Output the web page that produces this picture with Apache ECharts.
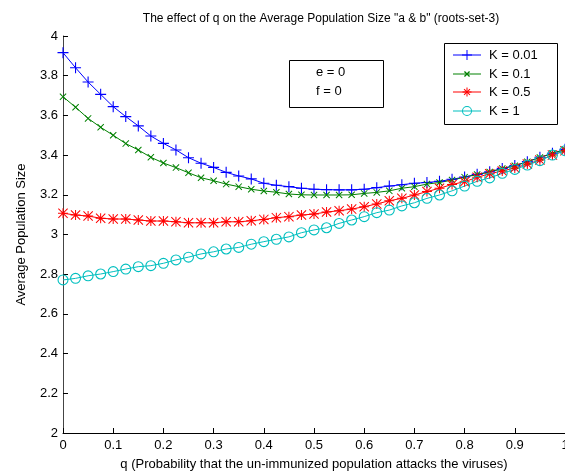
<!DOCTYPE html>
<html>
<head>
<meta charset="utf-8">
<script src="https://cdn.jsdelivr.net/npm/echarts@6/dist/echarts.min.js"></script>
<style>
html,body{margin:0;padding:0;background:#fff;}
#chart{width:565px;height:475px;}
</style>
</head>
<body>
<div id="chart"></div>
<script>
var qValues = [0,0.025,0.05,0.075,0.1,0.125,0.15,0.175,0.2,0.225,0.25,0.275,0.3,0.325,0.35,0.375,0.4,0.425,0.45,0.475,0.5,0.525,0.55,0.575,0.6,0.625,0.65,0.675,0.7,0.725,0.75,0.775,0.8,0.825,0.85,0.875,0.9,0.925,0.95,0.975,1];
var seriesNames = ['K = 0.01','K = 0.1','K = 0.5','K = 1'];
var k001 = [3.916,3.84,3.768,3.706,3.644,3.594,3.547,3.496,3.459,3.426,3.387,3.359,3.338,3.313,3.295,3.28,3.258,3.248,3.241,3.233,3.228,3.226,3.225,3.225,3.228,3.236,3.244,3.251,3.258,3.262,3.268,3.278,3.29,3.303,3.316,3.333,3.347,3.367,3.389,3.409,3.429];
var k01 = [3.694,3.641,3.585,3.54,3.5,3.458,3.426,3.389,3.36,3.337,3.311,3.286,3.271,3.254,3.241,3.228,3.219,3.213,3.204,3.2,3.199,3.199,3.199,3.2,3.207,3.212,3.22,3.233,3.241,3.254,3.262,3.274,3.289,3.302,3.315,3.332,3.346,3.366,3.388,3.408,3.428];
var k05 = [3.107,3.098,3.093,3.082,3.078,3.078,3.073,3.068,3.068,3.064,3.059,3.059,3.059,3.064,3.064,3.069,3.076,3.085,3.09,3.098,3.103,3.113,3.12,3.128,3.14,3.154,3.17,3.182,3.199,3.216,3.233,3.252,3.266,3.288,3.306,3.32,3.335,3.355,3.375,3.4,3.422];
var k1 = [2.771,2.779,2.792,2.801,2.813,2.826,2.838,2.843,2.855,2.872,2.886,2.902,2.913,2.927,2.935,2.951,2.964,2.976,2.988,3.009,3.023,3.034,3.056,3.073,3.09,3.11,3.123,3.144,3.16,3.182,3.199,3.22,3.244,3.268,3.285,3.308,3.328,3.35,3.372,3.4,3.422];

var plusPath = 'path://M4.5,0H5.5V10H4.5Z M0,4.5H10V5.5H0Z';
var xPath = 'path://M0,1L1,0L10,9L9,10Z M9,0L10,1L1,10L0,9Z';
var starPath = 'path://M4.5,0H5.5V10H4.5Z M0,4.5H10V5.5H0Z M0,0.7L0.7,0L10,9.3L9.3,10Z M9.3,0L10,0.7L0.7,10L0,9.3Z';
var ringPath = 'path://M0,5a5,5 0 1,0 10,0a5,5 0 1,0 -10,0Z M1,5a4,4 0 1,1 8,0a4,4 0 1,1 -8,0Z';

function pairs(vals){ return qValues.map(function(q,i){ return [q, vals[i]]; }); }

var colors = ['#0000ff','#008000','#ff0000','#00bfbf'];
var symbols = [plusPath, xPath, starPath, ringPath];
var sizes = [11, 7, 10, 11];
var datasets = [k001, k01, k05, k1];
var FONT = 'Liberation Sans, Arial, sans-serif';

var series = datasets.map(function(d, i){
  return {
    name: seriesNames[i],
    type: 'line',
    data: pairs(d),
    symbol: symbols[i],
    symbolSize: sizes[i],
    showAllSymbol: true,
    clip: false,
    lineStyle: {color: colors[i], width: 1},
    itemStyle: {color: colors[i]},
    emphasis: {disabled: true}
  };
});

// legend box drawn with graphic rects/polygons/rings
function diag(cx, cy, h, t, dir){
  // thin diagonal bar through (cx,cy), half-length h, half-thickness t
  var a = dir > 0 ? 1 : -1;
  return [[cx - h, cy - a*h + a*t], [cx - h + t, cy - a*h], [cx + h, cy + a*h - a*t], [cx + h - t, cy + a*h]];
}
function fillRect(x, y, w, h, c){ return {type: 'rect', shape: {x: x, y: y, width: w, height: h}, style: {fill: c}, z: 102}; }
function fillPoly(pts, c){ return {type: 'polygon', shape: {points: pts}, style: {fill: c}, z: 102}; }

var legendGraphics = [
  {type: 'rect', shape: {x: 444.5, y: 43.5, width: 113, height: 81}, style: {fill: '#fff', stroke: '#000', lineWidth: 1}, z: 100}
];
var rowY = [55, 74, 92, 111];
seriesNames.forEach(function(n, i){
  var y = rowY[i], c = colors[i], cx = 467;
  legendGraphics.push(fillRect(453, y - 0.5, 28, 1, c));
  if (i === 0) {
    legendGraphics.push(fillRect(cx - 0.5, y - 5, 1, 10, c));
    legendGraphics.push(fillRect(cx - 5, y - 0.5, 10, 1, c));
  } else if (i === 1) {
    legendGraphics.push(fillPoly(diag(cx, y, 3, 0.9, 1), c));
    legendGraphics.push(fillPoly(diag(cx, y, 3, 0.9, -1), c));
  } else if (i === 2) {
    legendGraphics.push(fillRect(cx - 0.5, y - 4.5, 1, 9, c));
    legendGraphics.push(fillRect(cx - 4.5, y - 0.5, 9, 1, c));
    legendGraphics.push(fillPoly(diag(cx, y, 3.3, 0.7, 1), c));
    legendGraphics.push(fillPoly(diag(cx, y, 3.3, 0.7, -1), c));
  } else {
    legendGraphics.push({type: 'ring', shape: {cx: cx, cy: y, r: 5, r0: 4}, style: {fill: c}, z: 102});
  }
  legendGraphics.push({type: 'text', x: 489, y: y, style: {text: n, font: '13px ' + FONT, fill: '#000', verticalAlign: 'middle', textVerticalAlign: 'middle'}, z: 102});
});

var chart = echarts.init(document.getElementById('chart'), null, {renderer: 'canvas'});
chart.setOption({
  animation: false,
  backgroundColor: '#fff',
  title: {
    text: 'The effect of q on the Average Population Size "a & b" (roots-set-3)',
    left: 316, top: 8, textAlign: 'center',
    textStyle: {fontFamily: FONT, fontSize: 12, fontWeight: 'normal', color: '#000'}
  },
  grid: {left: 63, top: 36, right: 0, bottom: 42, containLabel: false, outerBoundsMode: 'none'},
  xAxis: {
    type: 'value', min: 0, max: 1, interval: 0.1,
    name: 'q (Probability that the un-immunized population attacks the viruses)',
    nameLocation: 'middle', nameGap: 25,
    nameTextStyle: {fontFamily: FONT, fontSize: 13, color: '#000'},
    axisLine: {lineStyle: {color: '#000', width: 1}},
    axisTick: {inside: true, length: 5, lineStyle: {color: '#000'}},
    axisLabel: {fontFamily: FONT, fontSize: 13, color: '#000', margin: 6},
    splitLine: {show: false}
  },
  yAxis: {
    type: 'value', min: 2, max: 4, interval: 0.2,
    name: 'Average Population Size',
    nameLocation: 'middle', nameGap: 35,
    nameTextStyle: {fontFamily: FONT, fontSize: 13, color: '#000'},
    axisLine: {show: true, lineStyle: {color: '#444', width: 1}},
    axisTick: {show: true, inside: true, length: 5, lineStyle: {color: '#000'}},
    axisLabel: {fontFamily: FONT, fontSize: 13, color: '#000', margin: 5},
    splitLine: {show: false}
  },
  graphic: [
    {type: 'rect', shape: {x: 289.5, y: 60.5, width: 94, height: 47}, style: {fill: '#fff', stroke: '#000', lineWidth: 1}, z: 100},
    {type: 'text', x: 316, y: 72, style: {text: 'e = 0', font: '13px ' + FONT, fill: '#000', textVerticalAlign: 'middle', verticalAlign: 'middle'}, z: 101},
    {type: 'text', x: 316, y: 91, style: {text: 'f = 0', font: '13px ' + FONT, fill: '#000', textVerticalAlign: 'middle', verticalAlign: 'middle'}, z: 101}
  ].concat(legendGraphics),
  series: series
});
</script>
</body>
</html>
